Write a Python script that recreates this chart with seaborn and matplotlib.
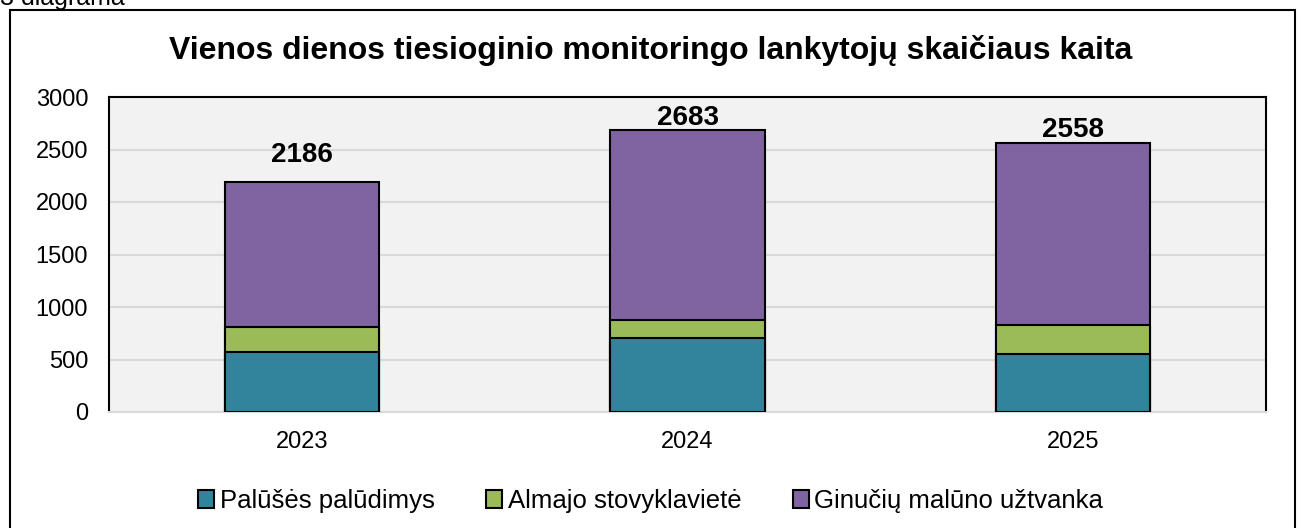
import numpy as np
import pandas as pd
import matplotlib
matplotlib.use("Agg")
import matplotlib.pyplot as plt
import matplotlib.patches as mpatches
import seaborn as sns

years = ["2023", "2024", "2025"]
paluses = [570, 705, 552]
almajo = [240, 171, 277]
ginuciu = [1376, 1807, 1729]
totals = [2186, 2683, 2558]

series_names = ["Palūšės palūdimys", "Almajo stovyklavietė", "Ginučių malūno užtvanka"]
colors = ["#31849B", "#9BBB59", "#8064A2"]

sns.set_theme(style="white")
plt.rcParams["font.family"] = ["Liberation Sans", "DejaVu Sans"]
plt.rcParams["text.color"] = "black"

df = pd.DataFrame({"year": years, "p": paluses, "a": almajo, "g": ginuciu})
df["pa"] = df["p"] + df["a"]
df["pag"] = df["pa"] + df["g"]

fig = plt.figure(figsize=(13.01, 5.28), dpi=100)
ax = fig.add_axes([109 / 1301, 1 - 412 / 528, (1266 - 109) / 1301, (412 - 97) / 528])
ax.set_facecolor("#F2F2F2")

# stacked bars drawn as overlapping cumulative layers
for col, c in zip(["pag", "pa", "p"], colors[::-1]):
    sns.barplot(data=df, x="year", y=col, color=c, width=0.4, edgecolor="black",
                linewidth=1.5, saturation=1, ax=ax, zorder=3)

ax.set_ylim(0, 3000)
ax.set_yticks(np.arange(0, 3001, 500))
ax.yaxis.grid(True, color="#D9D9D9", linewidth=1.5, zorder=0)
ax.set_axisbelow(True)
ax.set_xlabel("")
ax.set_ylabel("")
ax.tick_params(axis="both", length=0, labelsize=17, colors="black")
ax.tick_params(axis="x", pad=14)
ax.tick_params(axis="y", pad=15)
for s in ["top", "left", "right"]:
    ax.spines[s].set_color("black")
    ax.spines[s].set_linewidth(1.5)
ax.spines["bottom"].set_color("#D9D9D9")
ax.spines["bottom"].set_linewidth(1.5)

label_offsets = [19.5, 8.6, 10]
for i, (t, off) in enumerate(zip(totals, label_offsets)):
    ax.annotate(str(t), (i, t), xytext=(0, off), textcoords="offset points",
                ha="center", va="center", fontsize=20, fontweight="bold", color="black")

fig.text(0.5, 1 - 50 / 528, "Vienos dienos tiesioginio monitoringo lankytojų skaičiaus kaita",
         ha="center", va="center", fontsize=23, fontweight="bold", color="black")

fig.text(0.0, 1 - 5 / 528, "3 diagrama", ha="left", va="baseline", fontsize=18, color="black")

frame = mpatches.Rectangle((10 / 1301, -0.05), (1295 - 10) / 1301, 1.05 - 10 / 528,
                           transform=fig.transFigure, fill=False, edgecolor="black",
                           linewidth=1.5, clip_on=False)
fig.patches.append(frame)

handles = [mpatches.Patch(facecolor=c, edgecolor="black", linewidth=1.5) for c in colors]
fig.legend(handles, series_names, loc="center", bbox_to_anchor=(0.5, 1 - 501 / 528), ncol=3,
           frameon=False, fontsize=18.5, handlelength=0.65, handleheight=0.65,
           handletextpad=0.2, columnspacing=2.0, labelcolor="black")

fig.savefig("out.png", dpi=100)
